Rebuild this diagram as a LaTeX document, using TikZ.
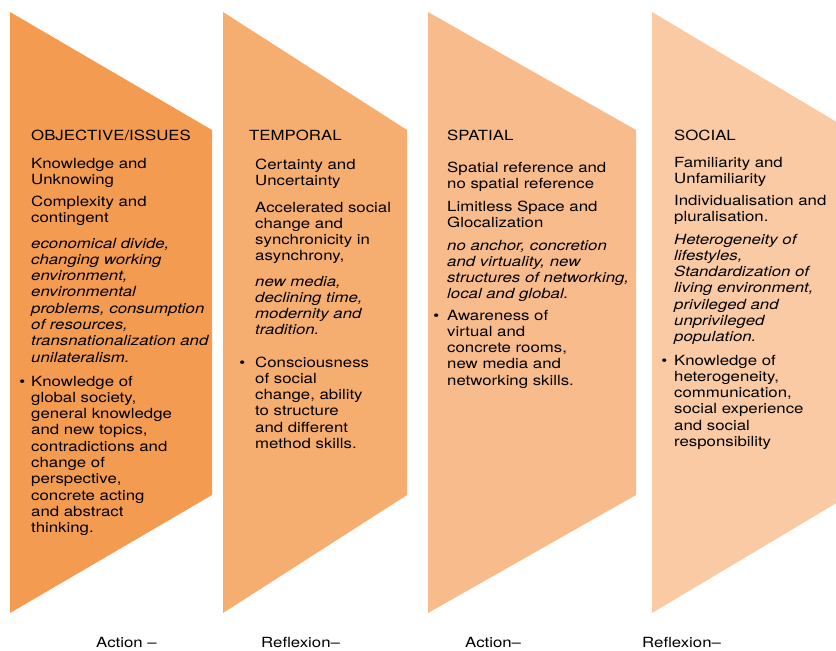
\documentclass[tikz,border=0pt]{standalone}
\usepackage{fontspec}
\setmainfont{TeX Gyre Heros}[FakeStretch=1.2]
\definecolor{bandA}{HTML}{F39B50}
\definecolor{bandB}{HTML}{F6AE70}
\definecolor{bandC}{HTML}{F8BC8C}
\definecolor{bandD}{HTML}{F9CAA4}
\newcommand\itembul[1]{\llap{\textbullet\hspace{#1}}}
\tikzset{
	txt/.style={anchor=base west, inner sep=0pt, text width=200pt, align=left,
		font=\fontsize{14}{16.3}\selectfont},
	itxt/.style={txt, font=\fontsize{14}{16.3}\selectfont\itshape},
	foot/.style={anchor=base west, inner sep=0pt, font=\fontsize{14}{16.3}\selectfont}
}
\begin{document}
\begin{tikzpicture}[x=1pt,y=-1pt]
	\useasboundingbox (0,0) rectangle (836,651);
	% the four bands
	\foreach \l/\r/\c in {10/212/bandA, 223/407/bandB, 428/636/bandC, 652/850/bandD}
		\fill[\c] (\l,12) -- (\r,130) -- (\r,495) -- (\l,613) -- cycle;
	% objective / issues
	\node[txt] (objhead) at (31,140) {OBJECTIVE/ISSUES};
	\node[txt] (objA) at (31,168) {Knowledge and\\Unknowing};
	\node[txt] (objB) at (31,206) {Complexity and\\contingent};
	\node[itxt] (objC) at (31,248) {economical divide,\\changing working\\environment,\\environmental\\problems, consumption\\of resources,\\transnationalization and\\unilateralism.};
	\node[txt] (objD) at (31,386) {\itembul{6pt}Knowledge of\\global society,\\general knowledge\\and new topics,\\contradictions and\\change of\\perspective,\\concrete acting\\and abstract\\thinking.};
	% temporal
	\node[txt] (tmphead) at (249,140) {TEMPORAL};
	\node[txt] (tmpA) at (255,169) {Certainty and\\Uncertainty};
	\node[txt] (tmpB) at (255,212) {Accelerated social\\change and\\synchronicity in\\asynchrony,};
	\node[itxt] (tmpC) at (255,286) {new media,\\declining time,\\modernity and\\tradition.};
	\node[txt] (tmpD) at (255,367) {\itembul{10pt}Consciousness\\of social\\change, ability\\to structure\\and different\\method skills.};
	% spatial
	\node[txt] (spahead) at (447,140) {SPATIAL};
	\node[txt] (spaA) at (447,172) {Spatial reference and\\no spatial reference};
	\node[txt] (spaB) at (447,211) {Limitless Space and\\Glocalization};
	\node[itxt] (spaC) at (447,250) {no anchor, concretion\\and virtuality, new\\structures of networking,\\local and global.};
	\node[txt] (spaD) at (447,320) {\itembul{8pt}Awareness of\\virtual and\\concrete rooms,\\new media and\\networking skills.};
	% social
	\node[txt] (sochead) at (674,140) {SOCIAL};
	\node[txt] (socA) at (674,167) {Familiarity and\\Unfamiliarity};
	\node[txt] (socB) at (674,205) {Individualisation and\\pluralisation.};
	\node[itxt] (socC) at (674,244) {Heterogeneity of\\lifestyles,\\Standardization of\\living environment,\\privileged and\\unprivileged\\population.};
	\node[txt] (socD) at (674,365) {\itembul{7pt}Knowledge of\\heterogeneity,\\communication,\\social experience\\and social\\responsibility};
	% labels below
	\node[foot] (footA) at (96,647) {Action~–};
	\node[foot] (footB) at (261,647) {Reflexion–};
	\node[foot] (footC) at (465,647) {Action–};
	\node[foot] (footD) at (642,647) {Reflexion–};
\end{tikzpicture}
\end{document}
